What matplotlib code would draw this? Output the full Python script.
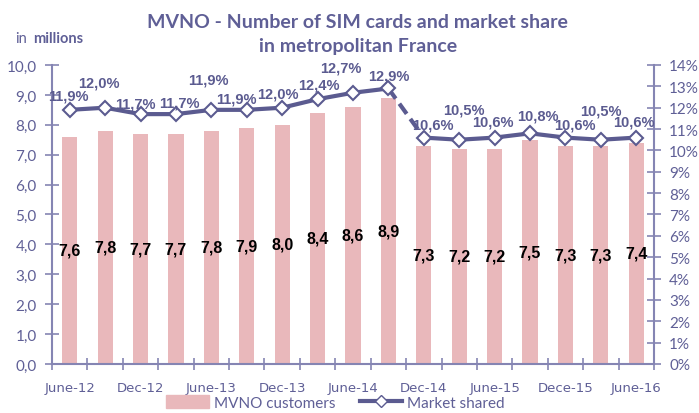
import numpy as np
import matplotlib.pyplot as plt
from matplotlib.lines import Line2D
from matplotlib.patches import Patch

# quarterly data, June-12 .. June-16
quarters = ['June-12', 'Sep-12', 'Dec-12', 'Mar-13', 'June-13', 'Sep-13', 'Dec-13', 'Mar-14',
            'June-14', 'Sep-14', 'Dec-14', 'Mar-15', 'June-15', 'Sep-15', 'Dece-15', 'Mar-16', 'June-16']
customers = [7.6, 7.8, 7.7, 7.7, 7.8, 7.9, 8.0, 8.4, 8.6, 8.9, 7.3, 7.2, 7.2, 7.5, 7.3, 7.3, 7.4]
share = [11.9, 12.0, 11.7, 11.7, 11.9, 11.9, 12.0, 12.4, 12.7, 12.9, 10.6, 10.5, 10.6, 10.8, 10.6, 10.5, 10.6]
break_idx = 9  # dashed segment between Sep-14 and Dec-14

bar_col = '#e9b8bb'
line_col = '#5b5b90'
axis_col = '#8585b3'
text_col = '#5f5f96'

fig = plt.figure(figsize=(6.99, 4.14), dpi=100)
ax = fig.add_axes([0.0744, 0.1184, 0.8612, 0.7222])
x = np.arange(len(customers))

ax.bar(x, customers, width=0.43, color=bar_col, zorder=2)
for xi, v in zip(x, customers):
    ax.text(xi, v / 2, f'{v:.1f}'.replace('.', ','), ha='center', va='center',
            fontsize=11.5, fontweight='bold', family='Liberation Sans', color='black', zorder=5)

ax.set_xlim(-0.5, len(x) - 0.5)
ax.set_ylim(0, 10)
ax.set_yticks(np.arange(0, 11, 1))
ax.set_yticklabels([f'{v:.1f}'.replace('.', ',') for v in np.arange(0, 11, 1)])
ax.set_xticks(np.arange(-0.5, len(x), 1))
ax.set_xticklabels([])
ax.set_xticks(x[::2], minor=True)
ax.set_xticklabels(quarters[::2], minor=True)
ax.tick_params(axis='x', which='major', direction='inout', length=8, color=axis_col, width=1.2)
ax.tick_params(axis='x', which='minor', length=0, pad=12, labelsize=9.5, labelcolor=text_col)
ax.tick_params(axis='y', direction='inout', length=10, color=axis_col, width=1.2,
               labelsize=11, labelcolor=text_col, pad=6)
for lab in ax.get_xticklabels(minor=True):
    lab.set_family('Liberation Sans Narrow')
for lab in ax.get_yticklabels():
    lab.set_family('Lato')
for s in ['top', 'right']:
    ax.spines[s].set_visible(False)
for s in ['left', 'bottom']:
    ax.spines[s].set_color(axis_col)
    ax.spines[s].set_linewidth(1.5)

ax2 = ax.twinx()
ax2.set_ylim(0, 14)
ax2.set_yticks(np.arange(0, 15, 1))
ax2.set_yticklabels([f'{v}%' for v in range(15)])
ax2.tick_params(axis='y', direction='inout', length=10, color=axis_col, width=1.2,
                labelsize=11, labelcolor=text_col, pad=6)
for lab in ax2.get_yticklabels():
    lab.set_family('Lato')
for s in ['top', 'left', 'bottom']:
    ax2.spines[s].set_visible(False)
ax2.spines['right'].set_color(axis_col)
ax2.spines['right'].set_linewidth(1.5)

ax2.plot(x[:break_idx + 1], share[:break_idx + 1], color=line_col, lw=3, zorder=3)
ax2.plot(x[break_idx:break_idx + 2], share[break_idx:break_idx + 2], color=line_col, lw=3,
         ls=(0, (3, 1.5)), zorder=3)
ax2.plot(x[break_idx + 1:], share[break_idx + 1:], color=line_col, lw=3, zorder=3)
ax2.plot(x, share, ls='none', marker='D', ms=7, mfc='white', mec=line_col, mew=1.5, zorder=4)

# label offsets (pixels)
offs = [(-1, 14), (-6, 25), (-5, 11), (3, 12), (-3, 30), (-10, 11), (-4, 14), (1, 15),
        (-12, 25), (0, 13), (9, 13), (5, 30), (-2, 16), (8, 18), (9, 13), (0, 29), (-2, 16)]
for xi, v, (dx, dy) in zip(x, share, offs):
    ax2.annotate(f'{v:.1f}%'.replace('.', ','), (xi, v), xytext=(dx, dy), textcoords='offset pixels',
                 ha='center', va='center', fontsize=10.5, fontweight='bold',
                 family='Liberation Sans', color=line_col, zorder=6)

fig.text(0.512, 0.945, 'MVNO - Number of SIM cards and market share', ha='center', va='center',
         fontsize=14, fontweight='bold', family='Lato', color=text_col)
fig.text(0.512, 0.888, 'in metropolitan France', ha='center', va='center',
         fontsize=14, fontweight='bold', family='Lato', color=text_col)
fig.text(0.022, 0.905, 'in', ha='left', va='center', fontsize=10.5, family='Lato', color=text_col)
fig.text(0.047, 0.905, 'millions', ha='left', va='center', fontsize=10.5, fontweight='bold',
         family='Lato', color=text_col)

handles = [Patch(color=bar_col),
           Line2D([], [], color=line_col, lw=3, marker='D', ms=6, mfc='white', mec=line_col)]
leg = fig.legend(handles, ['MVNO customers', 'Market shared'], loc='center', bbox_to_anchor=(0.48, 0.025),
                 ncol=2, frameon=False, fontsize=11, handlelength=2.8, handleheight=0.9, columnspacing=1.6,
                 handletextpad=0.3)
for tx in leg.get_texts():
    tx.set_color(text_col)
    tx.set_family('Lato')

fig.savefig('out.png', dpi=100)
